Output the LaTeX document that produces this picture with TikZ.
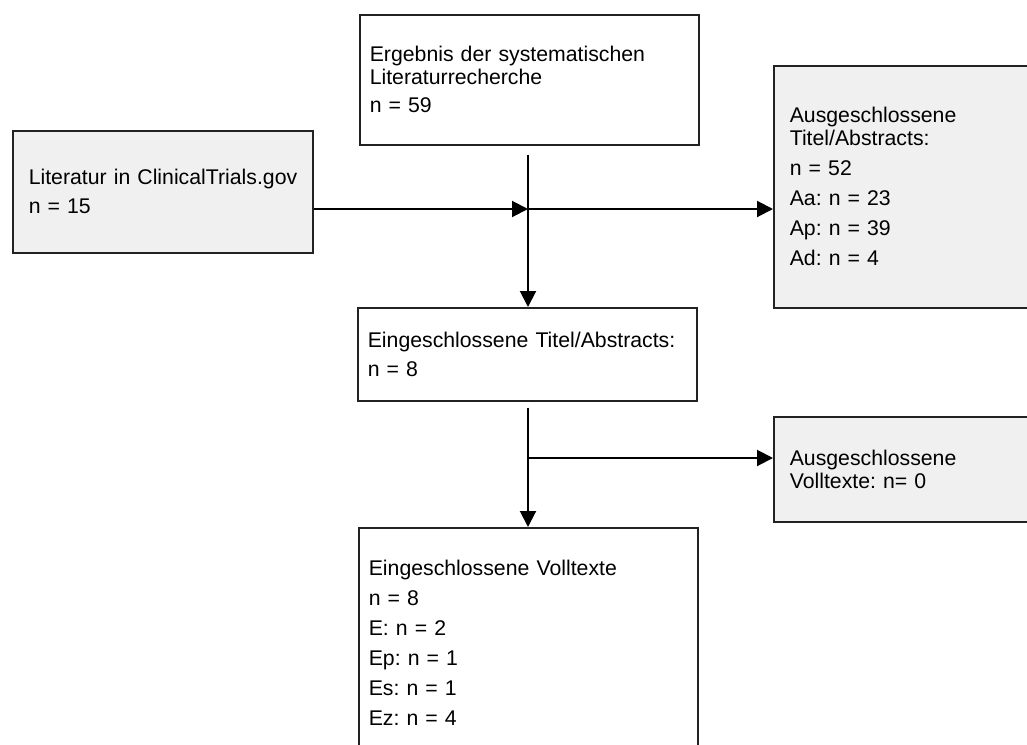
\documentclass[tikz,border=0pt]{standalone}
\usepackage{fontspec}
\setmainfont{Liberation Sans}
\usetikzlibrary{arrows.meta}
\definecolor{boxgray}{HTML}{F0F0F0}
\definecolor{edge}{HTML}{222222}
\frenchspacing
\begin{document}
\begin{tikzpicture}[x=1pt,y=-1pt,
  box/.style={draw=edge, line width=1.6pt, rectangle, anchor=north west,
    align=left, inner ysep=0pt, font=\fontsize{21.25}{23}\selectfont\frenchspacing},
  plain/.style={box, fill=white},
  shaded/.style={box, fill=boxgray},
  arr/.style={draw=black, line width=2pt, -{Triangle[length=16pt,width=16pt]}}]
\useasboundingbox[fill=white] (0,0) rectangle (1027,744);

% search result and registry records
\node[plain, inner xsep=10pt, text width=319pt, minimum height=130pt] (top) at (359,14)
  {Ergebnis der systematischen\\Literaturrecherche\\[5pt]n = 59};
\node[shaded, inner xsep=16pt, text width=268pt, minimum height=122pt] (left) at (12,130)
  {\mbox{Literatur in ClinicalTrials.gov}\\[6pt]n = 15};

% screening of titles and abstracts
\node[shaded, inner xsep=16pt, text width=238pt, minimum height=242pt] (right1) at (773,65)
  {Ausgeschlossene\\Titel/Abstracts:\\[7pt]n = 52\\[7pt]Aa: n = 23\\[7pt]Ap: n = 39\\[7pt]Ad: n = 4};
\node[plain, inner xsep=10pt, text width=319pt, minimum height=93pt] (mid) at (357,307)
  {Eingeschlossene Titel/Abstracts:\\[6pt]n = 8};

% full-text screening
\node[shaded, inner xsep=16pt, text width=238pt, minimum height=105pt] (right2) at (773,416)
  {Ausgeschlossene\\Volltexte: n= 0};
\node[plain, inner xsep=10pt, text width=319pt, minimum height=230pt] (bot) at (358,527)
  {Eingeschlossene Volltexte\\[7pt]n = 8\\[7pt]E: n = 2\\[7pt]Ep: n = 1\\[7pt]Es: n = 1\\[7pt]Ez: n = 4};

% junctions of the flow lines
\coordinate (j1) at (528,209);
\coordinate (j2) at (528,458);

\draw[arr] ([yshift=-9pt]top.south -| j1) -- (mid.north -| j1);
\draw[arr] (left.east |- j1) -- (j1);
\draw[arr] (j1) -- (right1.west |- j1);
\draw[arr] ([yshift=-6pt]mid.south -| j2) -- (bot.north -| j2);
\draw[arr] (j2) -- (right2.west |- j2);
\end{tikzpicture}
\end{document}
